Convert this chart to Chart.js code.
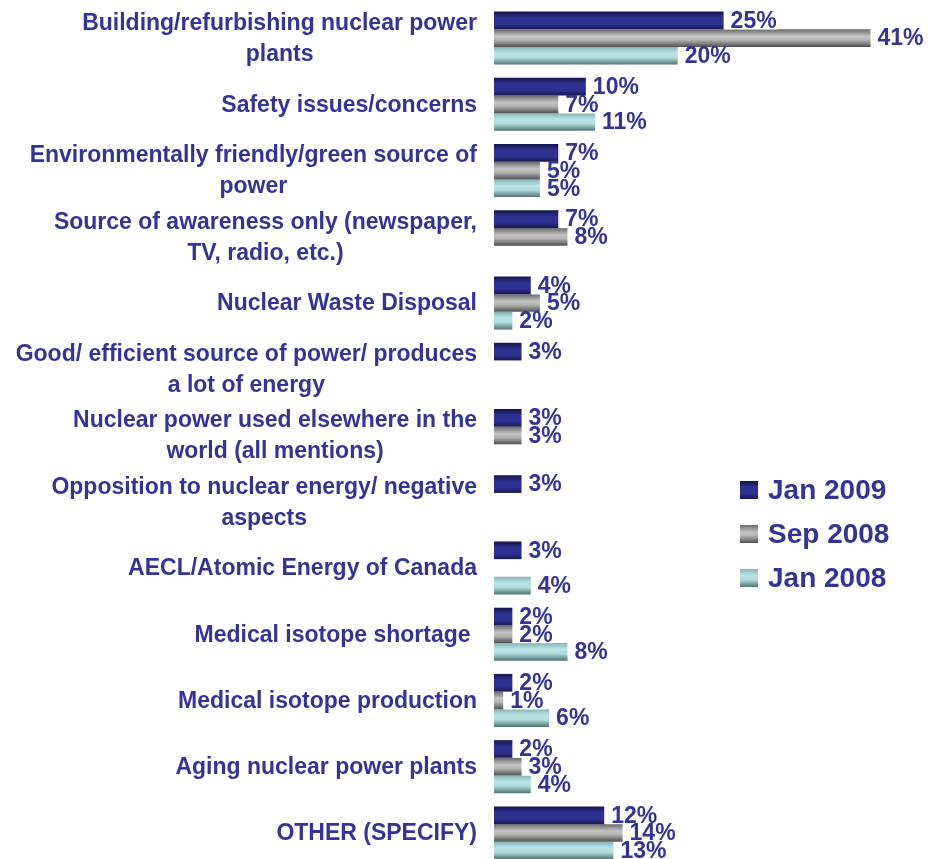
<!DOCTYPE html>
<html>
<head>
<meta charset="utf-8">
<script src="https://cdn.jsdelivr.net/npm/chart.js@4/dist/chart.umd.min.js"></script>
<style>
  html, body { margin: 0; padding: 0; background: #fff; overflow: hidden; }
  #wrap { width: 944px; height: 866px; }
</style>
</head>
<body>
<div id="wrap"><canvas id="chart" width="944" height="866"></canvas></div>
<script>
// categories, one array of lines per label
const categories = [
  ["Building/refurbishing nuclear power", "plants"],
  ["Safety issues/concerns"],
  ["Environmentally friendly/green source of", "power"],
  ["Source of awareness only (newspaper,", "TV, radio, etc.)"],
  ["Nuclear Waste Disposal"],
  ["Good/ efficient source of power/ produces", "a lot of energy"],
  ["Nuclear power used elsewhere in the", "world (all mentions)"],
  ["Opposition to nuclear energy/ negative", "aspects"],
  ["AECL/Atomic Energy of Canada"],
  ["Medical isotope shortage "],
  ["Medical isotope production"],
  ["Aging nuclear power plants"],
  ["OTHER (SPECIFY)"]
];
const seriesNames = ["Jan 2009", "Sep 2008", "Jan 2008"];
const jan2009 = [25, 10, 7, 7, 4, 3, 3, 3, 3, 2, 2, 2, 12];
const sep2008 = [41, 7, 5, 8, 5, null, 3, null, null, 2, 1, 3, 14];
const jan2008 = [20, 11, 5, null, 2, null, null, null, 4, 8, 6, 4, 13];

const textColor = '#333399';
const fontFamily = '"Liberation Sans", Arial, sans-serif';

// gradient stops per series (top -> bottom)
const stops = [
  [[0, '#15154a'], [0.35, '#2e3192'], [0.7, '#2e3192'], [1, '#181856']],
  [[0, '#6a6a6a'], [0.4, '#c4c4c4'], [0.6, '#b4b4b4'], [1, '#505050']],
  [[0, '#86b4b6'], [0.35, '#b8e4e6'], [0.6, '#b0dcde'], [1, '#4f7272']]
];

function gradientFor(ctx, i, top, h) {
  const g = ctx.createLinearGradient(0, top, 0, top + h);
  stops[i].forEach(s => g.addColorStop(s[0], s[1]));
  return g;
}

function barFill(c) {
  const chart = c.chart;
  const y = chart.scales.y;
  const fallback = stops[c.datasetIndex][1][1];
  if (c.type !== 'data' || !y) return fallback;
  const center = y.getPixelForValue(c.dataIndex);
  const cat = (y.getPixelForValue(1) - y.getPixelForValue(0)) * 0.8;
  if (!isFinite(center) || !isFinite(cat) || cat <= 0) return fallback;
  const t = cat / 3;
  const top = center - cat / 2 + c.datasetIndex * t;
  return gradientFor(chart.ctx, c.datasetIndex, top, t);
}

const labelPlugin = {
  id: 'labels',
  afterDraw(chart) {
    const ctx = chart.ctx;
    const y = chart.scales.y;
    ctx.save();
    ctx.font = 'bold 23px ' + fontFamily;
    ctx.fillStyle = textColor;
    ctx.textBaseline = 'middle';
    ctx.textAlign = 'center';
    // category labels: block right aligned, lines centred
    categories.forEach((lines, i) => {
      const cy = y.getPixelForValue(i);
      const w = Math.max(...lines.map(l => ctx.measureText(l).width));
      const cx = 477 - w / 2;
      lines.forEach((l, k) => {
        ctx.fillText(l, cx, cy + (k - (lines.length - 1) / 2) * 31 + 1);
      });
    });
    // value labels
    ctx.textAlign = 'left';
    chart.data.datasets.forEach((ds, di) => {
      const meta = chart.getDatasetMeta(di);
      meta.data.forEach((bar, i) => {
        const v = ds.data[i];
        if (v == null) return;
        const txt = v + '%';
        const w = ctx.measureText(txt).width;
        ctx.fillStyle = '#fff';
        ctx.fillRect(bar.x + 1, bar.y - 8, w + 7, 17);
        ctx.fillStyle = textColor;
        ctx.fillText(txt, bar.x + 7, bar.y + 1);
      });
    });
    // legend
    ctx.font = 'bold 28px ' + fontFamily;
    seriesNames.forEach((name, i) => {
      const top = 481 + i * 44;
      ctx.fillStyle = gradientFor(ctx, i, top, 18);
      ctx.fillRect(740, top, 18, 18);
      ctx.fillStyle = textColor;
      ctx.fillText(name, 768, top + 10);
    });
    ctx.restore();
  }
};

new Chart(document.getElementById('chart'), {
  type: 'bar',
  data: {
    labels: categories.map(l => l.join(' ')),
    datasets: [
      { label: seriesNames[0], data: jan2009 },
      { label: seriesNames[1], data: sep2008 },
      { label: seriesNames[2], data: jan2008 }
    ].map(d => Object.assign(d, {
      backgroundColor: barFill,
      borderWidth: 0,
      categoryPercentage: 0.8,
      barPercentage: 1
    }))
  },
  options: {
    indexAxis: 'y',
    responsive: false,
    animation: false,
    layout: { padding: { top: 5, right: 0, bottom: 0, left: 0 } },
    plugins: { legend: { display: false }, tooltip: { enabled: false } },
    scales: {
      x: { display: false, min: 0, max: 49 },
      y: {
        grid: { display: false, drawTicks: false },
        border: { display: false },
        ticks: { display: false },
        afterFit(scale) { scale.width = 494; }
      }
    }
  },
  plugins: [labelPlugin]
});
</script>
</body>
</html>
